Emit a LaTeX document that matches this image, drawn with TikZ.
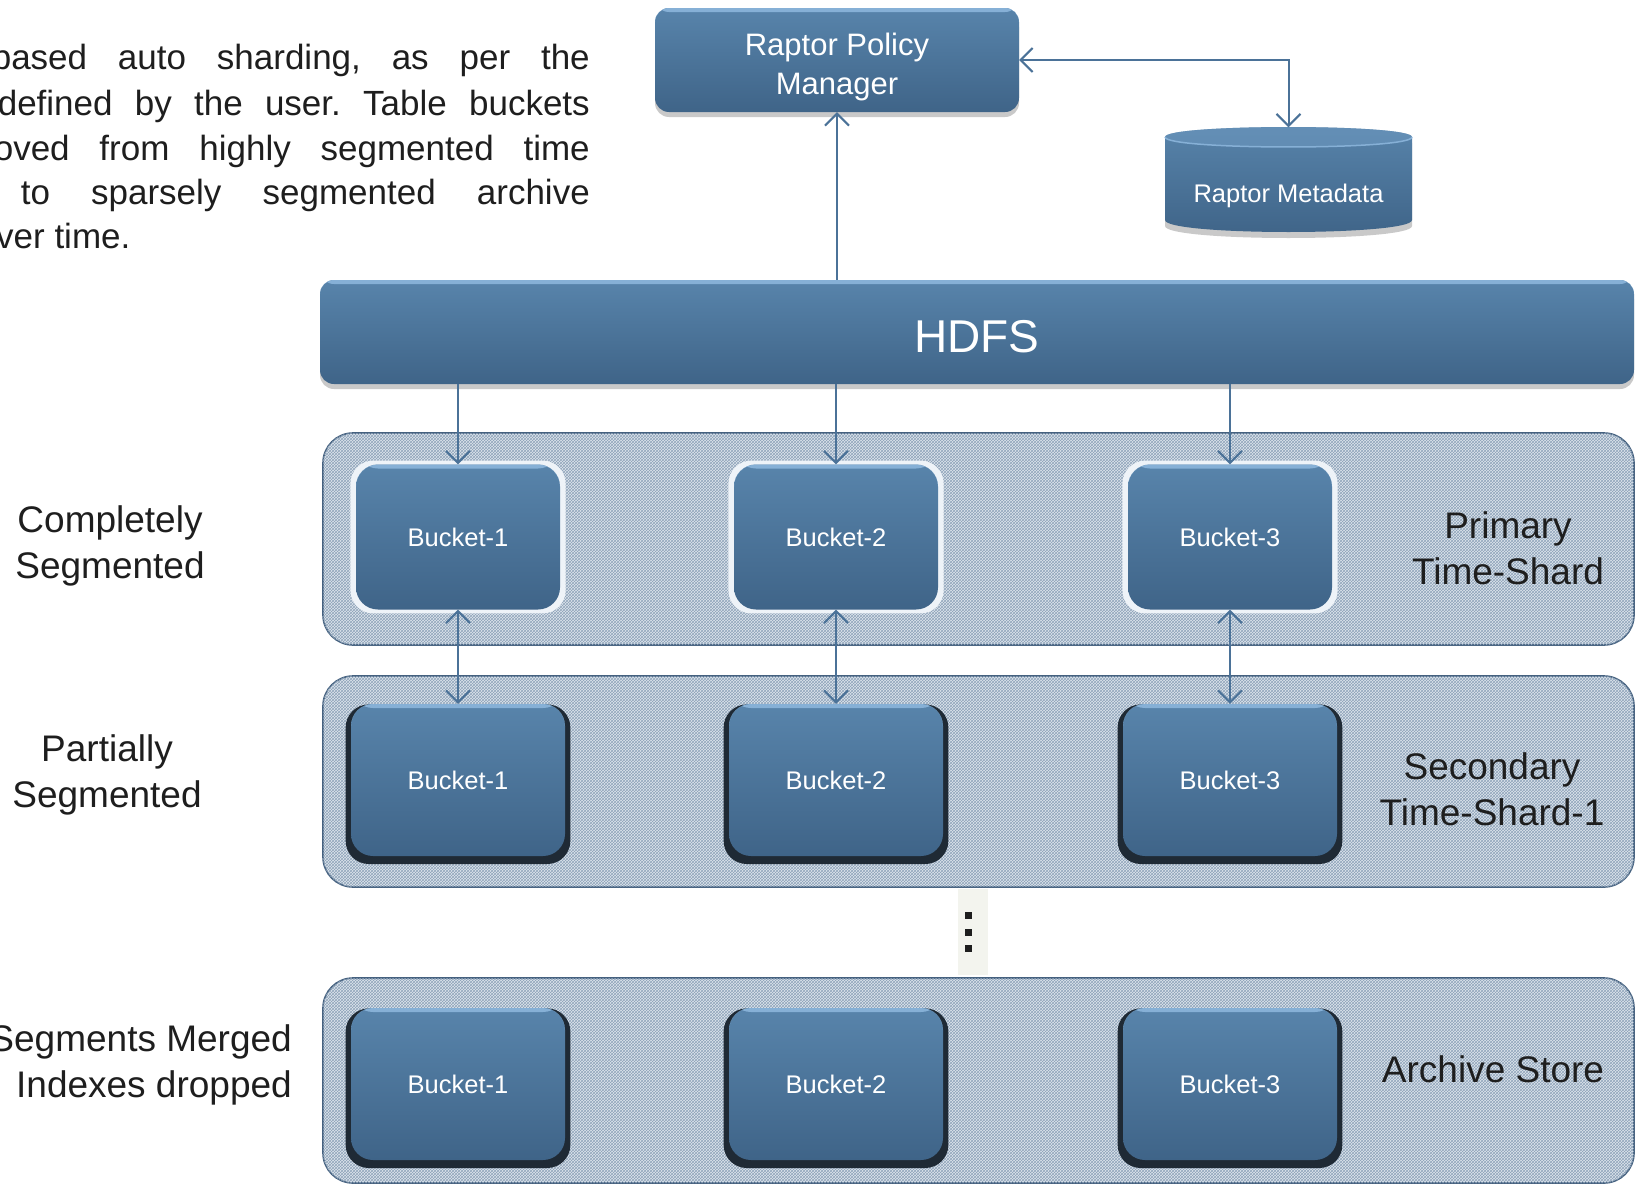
\documentclass[tikz,border=0pt]{standalone}
\usepackage{fontspec}
\setmainfont{Liberation Sans}
\usetikzlibrary{arrows.meta,shadows,patterns}
\frenchspacing

\definecolor{boxTop}{HTML}{5884AB}
\definecolor{boxBot}{HTML}{3F6488}
\definecolor{boxHi}{HTML}{86B0D6}
\definecolor{capTop}{HTML}{6C97BE}
\definecolor{lineC}{HTML}{4B7298}
\definecolor{bandFill}{HTML}{DFE6ED}
\definecolor{bandHatch}{HTML}{8FA4BA}
\definecolor{bandEdge}{HTML}{45617F}
\definecolor{haloC}{HTML}{EEF3F8}
\definecolor{darkOut}{HTML}{1F2A35}
\definecolor{txt}{HTML}{1E1E1E}
\definecolor{dotsBg}{HTML}{F3F4EE}

\begin{document}
\begin{tikzpicture}[x=1pt,y=-1pt,
  glossy/.style={top color=boxTop, bottom color=boxBot, draw=none, text=white, inner sep=0pt,
    path picture={\fill[boxHi] (path picture bounding box.north west) rectangle ([yshift=-4pt]path picture bounding box.north east);}},
  softshadow/.style={drop shadow={opacity=0.3, shadow xshift=0pt, shadow yshift=-5pt, fill=black!70}},
  bucket/.style={glossy, rounded corners=22pt, font=\fontsize{25.5}{30}\selectfont},
  upper/.style={bucket, minimum width=204pt, minimum height=145pt,
    general shadow={fill=haloC, shadow scale=1.055}},
  lower/.style={bucket, minimum width=214pt, minimum height=152pt,
    general shadow={fill=darkOut, shadow scale=1.05, shadow yshift=-4pt}},
  band/.style={draw=bandEdge, line width=1.6pt, rounded corners=30pt, fill=bandFill,
    postaction={pattern=crosshatch, pattern color=bandHatch}},
  tipV/.tip={Straight Barb[length=12pt,width=24pt,line width=2pt]},
  arr/.style={draw=lineC, line width=2pt, -tipV},
  arrboth/.style={draw=lineC, line width=2pt, tipV-tipV},
  sidetext/.style={text=txt, font=\fontsize{37}{46}\selectfont, align=center, inner sep=0pt},
  para/.style={text=txt, font=\fontsize{35}{46}\selectfont, inner sep=0pt},
]
\useasboundingbox (0,0) rectangle (1636,1186);

% time-shard bands
\node[band, minimum width=1311pt, minimum height=212pt] (primary) at (978.5,539) {};
\node[band, minimum width=1311pt, minimum height=211pt] (secondary) at (978.5,781.5) {};
\node[band, minimum width=1311pt, minimum height=205pt] (archive) at (978.5,1080.5) {};

% gap marker between the shards
\node[fill=dotsBg, minimum width=30pt, minimum height=86pt, inner sep=0pt] (gap) at (973,931.5) {};
\foreach \yy in {912,929,945}
  \fill[txt] (964.5,\yy) rectangle +(7,7);

% storage layer and policy manager
\node[glossy, softshadow, rounded corners=14pt, minimum width=1314pt, minimum height=104pt,
      text height=41pt, text depth=0pt, font=\fontsize{46}{50}\selectfont] (hdfs) at (977,332) {HDFS};
\node[glossy, softshadow, rounded corners=14pt, minimum width=364pt, minimum height=104pt] (rpm) at (837,60) {};
\node[text=white, align=center, inner sep=0pt, font=\fontsize{31}{38.5}\selectfont] (rpmtext)
  at ([yshift=-7pt]rpm.center) {Raptor Policy\\Manager};

% metadata store (cylinder)
\node[minimum width=247pt, minimum height=105pt, inner sep=0pt] (meta) at (1288.5,180) {};
\shade[top color=boxTop, bottom color=boxBot, drop shadow={opacity=0.3, shadow xshift=0pt, shadow yshift=-6pt, fill=black!70}]
  (1165,137) .. controls (1165,123.7) and (1412,123.7) .. (1412,137) -- (1412,220)
  .. controls (1412,236) and (1165,236) .. (1165,220) -- cycle;
\fill[capTop, opacity=0.6] (1165,137) .. controls (1165,123.7) and (1412,123.7) .. (1412,137)
  .. controls (1412,150.3) and (1165,150.3) .. (1165,137) -- cycle;
\draw[boxHi, line width=1.5pt] (1165,137) .. controls (1165,150.3) and (1412,150.3) .. (1412,137);
\node[text=white, font=\fontsize{25.5}{30}\selectfont, inner sep=0pt] (metatext) at ([yshift=-16pt]meta.center) {Raptor Metadata};

% buckets
\node[upper] (p1) at (458,537) {Bucket-1};
\node[upper] (p2) at (836,537) {Bucket-2};
\node[upper] (p3) at (1230,537) {Bucket-3};
\node[lower] (s1) at (458,780) {Bucket-1};
\node[lower] (s2) at (836,780) {Bucket-2};
\node[lower] (s3) at (1230,780) {Bucket-3};
\node[lower] (a1) at (458,1084) {Bucket-1};
\node[lower] (a2) at (836,1084) {Bucket-2};
\node[lower] (a3) at (1230,1084) {Bucket-3};

% connectors
\draw[arr] (rpm.south |- hdfs.north) -- (rpm.south);
\draw[arrboth] (rpm.east) -| (meta.north);
\foreach \b in {p1,p2,p3}
  \draw[arr] (\b.north |- hdfs.south) -- (\b.north);
\draw[arrboth] (p1.south) -- (s1.north);
\draw[arrboth] (p2.south) -- (s2.north);
\draw[arrboth] (p3.south) -- (s3.north);

% side captions
\node[sidetext] (lc) at (110,546) {Completely\\Segmented};
\node[sidetext] (lp) at (107,775) {Partially\\Segmented};
\node[sidetext, align=right, anchor=east] (lm) at (292,1065) {Segments Merged\\Indexes dropped};
\node[sidetext] (rp) at (1508,548) {Primary\\Time-Shard};
\node[sidetext] (rs) at (1492,789) {Secondary\\Time-Shard-1};
\node[sidetext] (ra) at (1493,1069) {Archive Store};

% description paragraph
\node[para, anchor=base east] (t1) at (590,69) {\makebox[598pt][s]{based auto sharding, as per the}};
\node[para, anchor=base east] (t2) at (590,115) {\makebox[592pt][s]{defined by the user. Table buckets}};
\node[para, anchor=base east] (t3) at (590,160) {\makebox[596pt][s]{oved from highly segmented time}};
\node[para, anchor=base east] (t4) at (590,204) {\makebox[569pt][s]{to sparsely segmented archive}};
\node[para, anchor=base west] (t5) at (-4,248) {ver time.};
\end{tikzpicture}
\end{document}
